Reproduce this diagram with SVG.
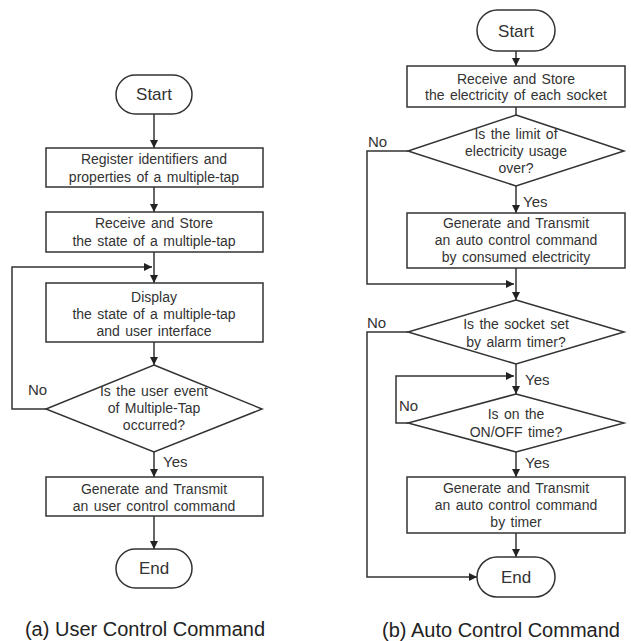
<svg xmlns="http://www.w3.org/2000/svg" width="631" height="641" viewBox="0 0 631 641">
<defs>
<marker id="ah" viewBox="0 0 10 10" refX="10" refY="5" markerWidth="8" markerHeight="8" markerUnits="userSpaceOnUse" orient="auto">
<path d="M0,0 L10,5 L0,10 z" fill="#222"/>
</marker>
<style>
.shape{fill:#fff;stroke:#333;stroke-width:1.5}
.t{font-family:"Liberation Sans",Arial,sans-serif;font-size:14px;fill:#333;text-anchor:middle;word-spacing:1.5px}
.lbl{font-family:"Liberation Sans",Arial,sans-serif;font-size:15px;fill:#333}
.term{font-family:"Liberation Sans",Arial,sans-serif;font-size:17px;fill:#333;text-anchor:middle}
.cap{font-family:"Liberation Sans",Arial,sans-serif;font-size:20px;fill:#222;text-anchor:middle}
.c{fill:none;stroke:#333;stroke-width:1.5}
.ca{fill:none;stroke:#333;stroke-width:1.5;marker-end:url(#ah)}
</style>
</defs>
<rect width="631" height="641" fill="#fff"/>

<g id="connectors">
<!-- left -->
<path class="ca" d="M154,114 V148"/>
<path class="ca" d="M154,187 V212"/>
<path class="ca" d="M154,252 V283"/>
<path class="ca" d="M46,409 H12 V267 H152"/>
<path class="ca" d="M154,342 V365"/>
<path class="ca" d="M154,452 V477"/>
<path class="ca" d="M154,516 V549"/>
<!-- right -->
<path class="ca" d="M516,51 V66"/>
<path class="c" d="M516,107 V115"/>
<path class="ca" d="M516,186 V213"/>
<path class="ca" d="M408,151 H367 V284 H514"/>
<path class="ca" d="M516,268 V300"/>
<path class="ca" d="M408,332 H367 V577 H477"/>
<path class="ca" d="M516,364 V394"/>
<path class="ca" d="M408,423 H396 V376 H514"/>
<path class="ca" d="M516,452 V477"/>
<path class="ca" d="M516,533 V557"/>
</g>

<g id="l-start"><rect class="shape" x="116" y="75" width="76" height="39" rx="19.5"/><text class="term" x="154" y="100">Start</text></g>
<g id="l-register"><rect class="shape" x="46" y="148" width="217" height="39"/><text class="t" x="154" y="164">Register identifiers and</text><text class="t" x="154" y="182">properties of a multiple-tap</text></g>
<g id="l-receive"><rect class="shape" x="46" y="212" width="217" height="40"/><text class="t" x="154" y="228">Receive and Store</text><text class="t" x="154" y="246">the state of a multiple-tap</text></g>
<g id="l-display"><rect class="shape" x="46" y="283" width="217" height="59"/><text class="t" x="154" y="302">Display</text><text class="t" x="154" y="319">the state of a multiple-tap</text><text class="t" x="154" y="336">and user interface</text></g>
<g id="l-event"><polygon class="shape" points="154,365 262,409 154,452 46,409"/><text class="t" x="154" y="396">Is the user event</text><text class="t" x="154" y="413">of Multiple-Tap</text><text class="t" x="154" y="430">occurred?</text></g>
<g id="l-generate"><rect class="shape" x="46" y="477" width="217" height="39"/><text class="t" x="154" y="494">Generate and Transmit</text><text class="t" x="154" y="511">an user control command</text></g>
<g id="l-end"><rect class="shape" x="116" y="549" width="76" height="39" rx="19.5"/><text class="term" x="154" y="574">End</text></g>
<g id="l-labels"><text class="lbl" x="28" y="395">No</text><text class="lbl" x="163" y="467">Yes</text></g>

<g id="r-start"><rect class="shape" x="477" y="10" width="78" height="41" rx="20.5"/><text class="term" x="516" y="37">Start</text></g>
<g id="r-receive"><rect class="shape" x="407" y="66" width="218" height="41"/><text class="t" x="516" y="84">Receive and Store</text><text class="t" x="516" y="100">the electricity of each socket</text></g>
<g id="r-limit"><polygon class="shape" points="516,115 624,151 516,186 408,151"/><text class="t" x="516" y="139">Is the limit of</text><text class="t" x="516" y="156">electricity usage</text><text class="t" x="516" y="173">over?</text></g>
<g id="r-gen1"><rect class="shape" x="407" y="213" width="218" height="55"/><text class="t" x="516" y="228">Generate and Transmit</text><text class="t" x="516" y="245">an auto control command</text><text class="t" x="516" y="262">by consumed electricity</text></g>
<g id="r-socket"><polygon class="shape" points="516,300 624,332 516,364 408,332"/><text class="t" x="516" y="329">Is the socket set</text><text class="t" x="516" y="347">by alarm timer?</text></g>
<g id="r-onoff"><polygon class="shape" points="516,394 624,423 516,452 408,423"/><text class="t" x="516" y="419">Is on the</text><text class="t" x="516" y="437">ON/OFF time?</text></g>
<g id="r-gen2"><rect class="shape" x="407" y="477" width="218" height="56"/><text class="t" x="516" y="493">Generate and Transmit</text><text class="t" x="516" y="510">an auto control command</text><text class="t" x="516" y="527">by timer</text></g>
<g id="r-end"><rect class="shape" x="477" y="557" width="78" height="40" rx="20"/><text class="term" x="516" y="583">End</text></g>
<g id="r-labels"><text class="lbl" x="368" y="147">No</text><text class="lbl" x="523" y="207">Yes</text><text class="lbl" x="367" y="328">No</text><text class="lbl" x="525" y="385">Yes</text><text class="lbl" x="399" y="411">No</text><text class="lbl" x="525" y="468">Yes</text></g>

<g id="captions"><text class="cap" x="145" y="636">(a) User Control Command</text><text class="cap" x="501" y="637">(b) Auto Control Command</text></g>
</svg>
